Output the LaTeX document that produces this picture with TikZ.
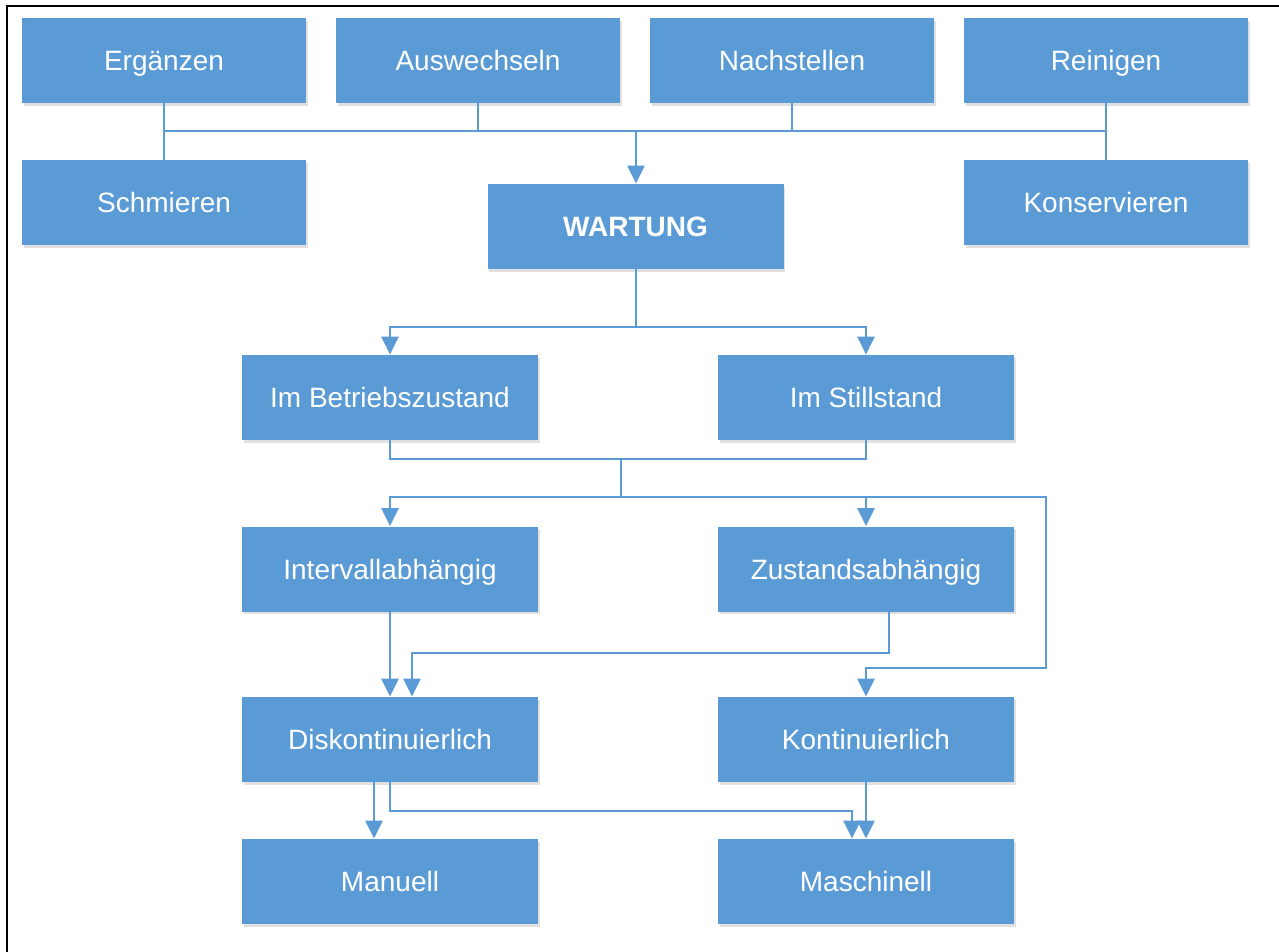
\documentclass[tikz,border=0pt]{standalone}
\usepackage{fontspec}
\setmainfont{Liberation Sans}
\usetikzlibrary{arrows.meta,shadows}
\definecolor{boxblue}{HTML}{5B9BD5}
\definecolor{lineblue}{HTML}{5B9BD5}
\tikzset{
  box/.style={draw=none, fill=boxblue, text=white, inner sep=0pt,
    minimum width=142pt, minimum height=42.5pt, font=\fontsize{14}{16}\selectfont,
    text height=12pt, text depth=2pt,
    drop shadow={shadow xshift=0.8pt, shadow yshift=-1.4pt, opacity=0.12, fill=black}},
  widebox/.style={box, minimum width=148pt},
  link/.style={draw=lineblue, line width=1.4pt},
  arr/.style={link, -{Triangle[length=9pt,width=8.5pt]}},
}
\begin{document}
\begin{tikzpicture}[x=0.5pt,y=-0.5pt]
\useasboundingbox (0,0) rectangle (1279,952);
\fill[white] (0,0) rectangle (1279,952);
% frame edges
\draw[line width=1.3pt] (7,952) -- (7,6) -- (1279,6);

% maintenance activities
\node[box] (erg)  at (164,60.5) {Ergänzen};
\node[box] (aus)  at (478,60.5) {Auswechseln};
\node[box] (nach) at (792,60.5) {Nachstellen};
\node[box] (rein) at (1106,60.5) {Reinigen};
\node[box] (schm) at (164,202.5) {Schmieren};
\node[box] (kons) at (1106,202.5) {Konservieren};

\node[widebox, font=\fontsize{14}{16}\selectfont\bfseries] (wart) at (635.5,226.5) {WARTUNG};

\node[widebox] (betr)  at (390,397.5) {Im Betriebszustand};
\node[widebox] (still) at (866,397.5) {Im Stillstand};
\node[widebox] (intv)  at (390,569) {Intervallabhängig};
\node[widebox] (zust)  at (866,569) {Zustandsabhängig};
\node[widebox] (disk)  at (390,739.5) {Diskontinuierlich};
\node[widebox] (kont)  at (866,739.5) {Kontinuierlich};
\node[widebox] (man)   at (390,881.5) {Manuell};
\node[widebox] (masch) at (866,881.5) {Maschinell};

% collecting bus into WARTUNG
\coordinate (bus) at (636,131);
\draw[link] (erg.south) -- (schm.north);
\draw[link] (rein.south) -- (kons.north);
\draw[link] (erg.south |- bus) -- (rein.south |- bus);
\draw[link] (aus.south) -- (aus.south |- bus);
\draw[link] (nach.south) -- (nach.south |- bus);
\draw[arr] (bus) -- (bus |- wart.north);

% WARTUNG split
\coordinate (s1) at (636,327);
\draw[link] (wart.south -| s1) -- (s1);
\draw[arr] (s1) -| (betr.north);
\draw[arr] (s1) -| (still.north);

% operating states joined
\coordinate (j1) at (621,459);
\coordinate (j2) at (621,497);
\draw[link] (betr.south) |- (j1) -| (still.south);
\draw[link] (j1) -- (j2);
\draw[arr] (j2) -| (intv.north);
\draw[arr] (j2) -| (zust.north);
\coordinate (r1) at (1046,497);
\coordinate (r2) at (1046,668);
\draw[arr] (j2) -- (r1) -- (r2) -| (kont.north);

% strategy to execution
\draw[arr] (intv.south) -- (disk.north);
\coordinate (z2) at (412,653);
\draw[arr] ([xshift=11.5pt]zust.south) |- (z2) -- (z2 |- disk.north);

% execution type
\draw[arr] ([xshift=-8pt]disk.south) -- ([xshift=-8pt]man.north);
\coordinate (m1) at (852,811);
\draw[arr] (disk.south) |- (m1) -- (m1 |- masch.north);
\draw[arr] (kont.south) -- (masch.north);
\end{tikzpicture}
\end{document}
